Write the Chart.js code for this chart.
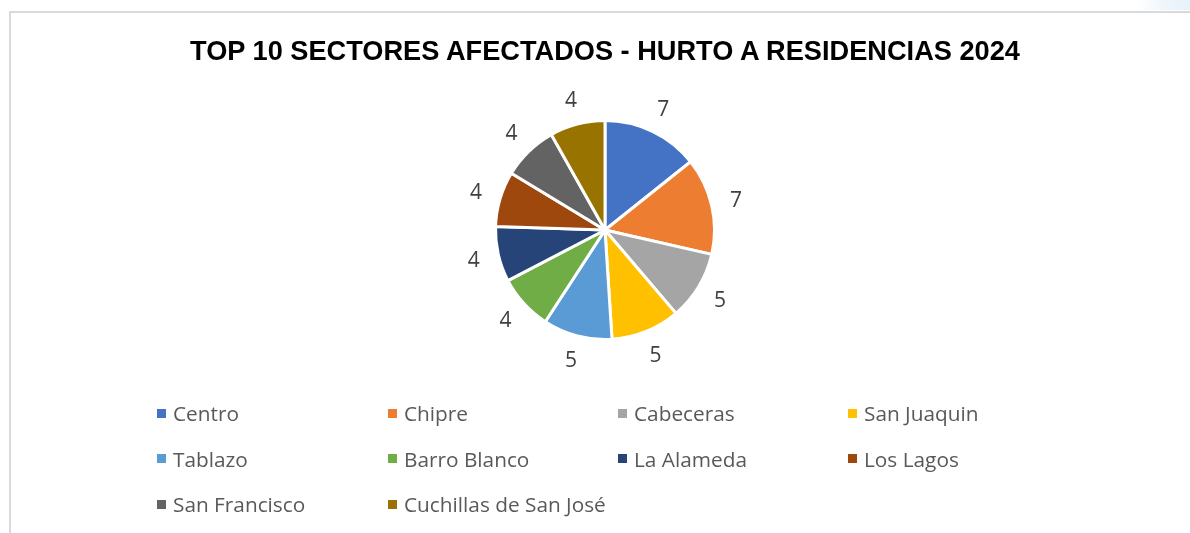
<!DOCTYPE html>
<html>
<head>
<meta charset="utf-8">
<script src="https://cdn.jsdelivr.net/npm/chart.js@4/dist/chart.umd.min.js"></script>
<style>
  html, body { margin: 0; padding: 0; background: #fff; width: 1190px; height: 533px; overflow: hidden; }
  #frame { position: absolute; left: 9px; top: 11px; width: 1200px; height: 540px; border: 2px solid #d9d9d9; box-sizing: border-box; }
  #corner { position: absolute; left: 1140px; top: 0; width: 60px; height: 10px; background: linear-gradient(100deg, #fff 0%, #eef6fb 40%, #e2f0f9 100%); }
  #title { position: absolute; left: 0; width: 1210px; top: 35px; text-align: center; font-family: "Liberation Sans", sans-serif; font-weight: bold; font-size: 27.2px; color: #000; }
  #chart { position: absolute; left: 0; top: 0; }
  #legend { position: absolute; left: 157px; top: 398px; display: grid; grid-template-columns: 231px 230px 230px 230px; grid-auto-rows: 45.5px; font-family: "Open Sans", sans-serif; font-size: 20.8px; color: #595959; }
  .item { display: flex; align-items: center; height: 30px; }
  .box { width: 9px; height: 9px; margin-right: 7px; }
</style>
</head>
<body>
<div id="corner"></div>
<div id="frame"></div>
<canvas id="chart" width="1190" height="533"></canvas>
<div id="title">TOP 10 SECTORES AFECTADOS - HURTO A RESIDENCIAS 2024</div>
<div id="legend"></div>
<script>
const sectores = ["Centro", "Chipre", "Cabeceras", "San Juaquin", "Tablazo", "Barro Blanco", "La Alameda", "Los Lagos", "San Francisco", "Cuchillas de San José"];
const casos = [7, 7, 5, 5, 5, 4, 4, 4, 4, 4];
const colores = ["#4472C4", "#ED7D31", "#A5A5A5", "#FFC000", "#5B9BD5", "#70AD47", "#264478", "#9E480E", "#636363", "#997300"];

// etiquetas de valor fuera de cada porcion
const etiquetas = {
  id: "etiquetas",
  afterDatasetsDraw(chart) {
    const ctx = chart.ctx;
    const meta = chart.getDatasetMeta(0);
    ctx.save();
    ctx.font = '21px "Open Sans", sans-serif';
    ctx.fillStyle = "#404040";
    ctx.textAlign = "center";
    ctx.textBaseline = "middle";
    meta.data.forEach((arc, i) => {
      const mid = (arc.startAngle + arc.endAngle) / 2;
      const r = arc.outerRadius + 25;
      ctx.fillText(casos[i], arc.x + Math.cos(mid) * r, arc.y + Math.sin(mid) * r + 1);
    });
    ctx.restore();
  }
};

const ctx = document.getElementById("chart").getContext("2d");
const grafico = new Chart(ctx, {
  type: "pie",
  data: {
    labels: sectores,
    datasets: [{
      data: casos,
      backgroundColor: colores,
      borderColor: "#ffffff",
      borderWidth: 3
    }]
  },
  options: {
    responsive: false,
    animation: false,
    layout: { padding: { top: 119, bottom: 192, left: 494, right: 474 } },
    plugins: {
      legend: { display: false },
      title: { display: false },
      tooltip: { enabled: false }
    }
  },
  plugins: [etiquetas]
});

const leyenda = document.getElementById("legend");
sectores.forEach((s, i) => {
  const item = document.createElement("div");
  item.className = "item";
  const box = document.createElement("span");
  box.className = "box";
  box.style.background = colores[i];
  item.appendChild(box);
  item.appendChild(document.createTextNode(s));
  leyenda.appendChild(item);
});
</script>
</body>
</html>
